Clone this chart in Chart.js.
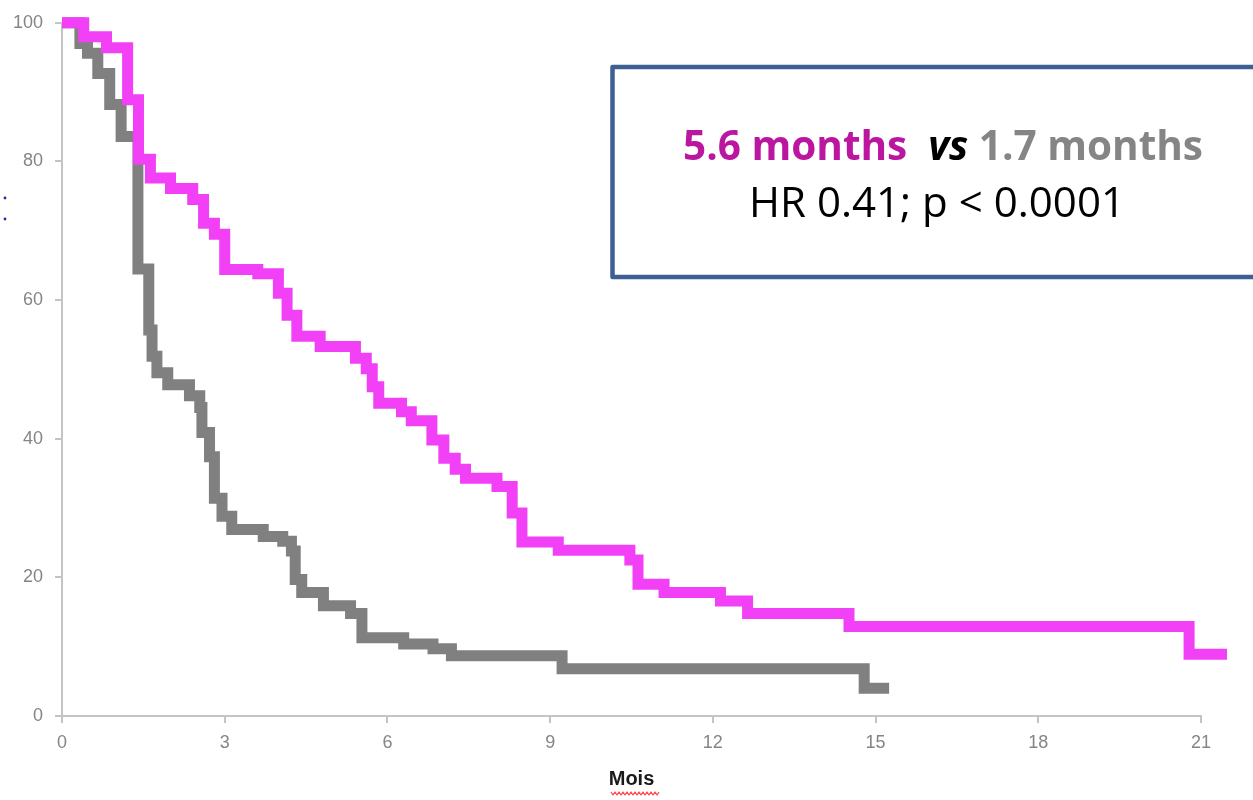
<!DOCTYPE html>
<html>
<head>
<meta charset="utf-8">
<script src="https://cdn.jsdelivr.net/npm/chart.js@4.4.1/dist/chart.umd.min.js"></script>
<style>
  html, body { margin: 0; padding: 0; background: #ffffff; }
  #wrap { width: 1253px; height: 800px; position: relative; }
</style>
</head>
<body>
<div id="wrap"><canvas id="kmChart" width="1253" height="800"></canvas></div>
<script>
// Kaplan-Meier steps: time (months) of each drop and survival (%) after it
const magentaMonths = [0, 0.40, 0.82, 1.21, 1.41, 1.63, 2.00, 2.41, 2.61, 2.81, 3.00, 3.61, 3.99, 4.15, 4.33, 4.76, 5.41, 5.61, 5.72, 5.84, 6.26, 6.44, 6.82, 7.04, 7.25, 7.44, 8.02, 8.30, 8.48, 9.15, 10.47, 10.62, 11.10, 12.14, 12.64, 14.51, 20.78, 21.48];
const magentaSurvival = [100, 98.0, 96.4, 88.9, 80.3, 77.6, 76.1, 74.5, 71.1, 69.5, 64.4, 63.8, 61.0, 57.8, 54.8, 53.3, 51.6, 50.1, 47.5, 45.1, 43.9, 42.6, 39.8, 37.2, 35.6, 34.3, 33.1, 29.3, 25.1, 23.9, 22.5, 19.0, 17.8, 16.6, 14.8, 12.9, 8.9, 8.9];

const grayMonths = [0, 0.33, 0.47, 0.66, 0.88, 1.09, 1.40, 1.60, 1.66, 1.75, 1.95, 2.35, 2.54, 2.58, 2.72, 2.81, 2.95, 3.13, 3.71, 4.07, 4.23, 4.30, 4.42, 4.82, 5.32, 5.53, 6.30, 6.84, 7.18, 9.22, 14.79, 15.25];
const graySurvival = [100, 97.0, 95.6, 92.7, 88.2, 83.6, 64.5, 55.7, 51.9, 49.5, 47.8, 46.2, 44.5, 40.9, 37.4, 31.4, 28.8, 26.9, 25.9, 25.2, 23.8, 19.7, 17.8, 15.9, 14.8, 11.3, 10.4, 9.7, 8.7, 6.8, 4.0, 4.0];

const xTickValues = [0, 3, 6, 9, 12, 15, 18, 21];
const yTickValues = [0, 20, 40, 60, 80, 100];

const AXIS_COLOR = '#c4c4c4';
const TICK_COLOR = '#858585';

function toPoints(xs, ys) {
    return xs.map((x, i) => ({ x: x, y: ys[i] }));
}

// Draws one line of mixed-style text squeezed to a given width (Calibri-like look)
function drawFittedLine(ctx, parts, left, right, baseline) {
    let total = 0;
    parts.forEach(p => {
        ctx.font = p.font;
        p.w = ctx.measureText(p.text).width;
        total += p.w;
    });
    const sx = (right - left) / total;
    ctx.save();
    ctx.translate(left, baseline);
    ctx.scale(sx, 1);
    ctx.textAlign = 'left';
    ctx.textBaseline = 'alphabetic';
    let x = 0;
    parts.forEach(p => {
        ctx.font = p.font;
        ctx.fillStyle = p.color;
        ctx.fillText(p.text, x, 0);
        x += p.w;
    });
    ctx.restore();
}

const annotationPlugin = {
    id: 'annotationBox',
    afterDraw: function (chart) {
        const ctx = chart.ctx;
        ctx.save();

        // result box (runs off the right edge in the original)
        ctx.strokeStyle = '#3d6090';
        ctx.lineWidth = 4.5;
        ctx.lineJoin = 'round';
        ctx.strokeRect(612.5, 67, 700, 210);

        drawFittedLine(ctx, [
            { text: '5.6 months  ', font: 'bold 42px "Open Sans"', color: '#bb16a0' },
            { text: 'vs ', font: 'italic bold 42px "Open Sans"', color: '#000000' },
            { text: '1.7 months', font: 'bold 42px "Open Sans"', color: '#858585' }
        ], 683, 1203, 160);

        drawFittedLine(ctx, [
            { text: 'HR 0.41; p < 0.0001', font: '42px "Open Sans"', color: '#000000' }
        ], 749, 1125, 217);

        // spell-check squiggle under the axis title
        ctx.strokeStyle = '#ff4a4a';
        ctx.lineWidth = 1.3;
        ctx.beginPath();
        for (let x = 611; x <= 659; x += 2) {
            const y = ((x - 611) / 2) % 2 === 0 ? 792 : 795;
            if (x === 611) ctx.moveTo(x, y); else ctx.lineTo(x, y);
        }
        ctx.stroke();

        // two stray dots at the left edge
        ctx.fillStyle = '#1c2f9c';
        ctx.beginPath();
        ctx.arc(5, 198, 1.4, 0, Math.PI * 2);
        ctx.arc(5, 219, 1.4, 0, Math.PI * 2);
        ctx.fill();

        ctx.restore();
    }
};

const ctx = document.getElementById('kmChart').getContext('2d');

new Chart(ctx, {
    type: 'line',
    data: {
        datasets: [
            {
                label: 'Bras A',
                data: toPoints(magentaMonths, magentaSurvival),
                borderColor: '#f240f6',
                borderWidth: 11,
                stepped: 'before',
                pointRadius: 0,
                borderJoinStyle: 'miter',
                borderCapStyle: 'butt',
                fill: false,
                clip: false
            },
            {
                label: 'Bras B',
                data: toPoints(grayMonths, graySurvival),
                borderColor: '#808080',
                borderWidth: 11,
                stepped: 'before',
                pointRadius: 0,
                borderJoinStyle: 'miter',
                borderCapStyle: 'butt',
                fill: false,
                clip: false
            }
        ]
    },
    options: {
        responsive: false,
        animation: false,
        layout: {
            padding: { top: 17, right: 52, left: 0, bottom: 0 }
        },
        scales: {
            x: {
                type: 'linear',
                min: 0,
                max: 21,
                afterBuildTicks: function (scale) {
                    scale.ticks = xTickValues.map(v => ({ value: v }));
                },
                afterFit: function (scale) {
                    scale.height = 84;
                },
                grid: {
                    drawOnChartArea: false,
                    drawTicks: true,
                    tickLength: 7,
                    color: AXIS_COLOR,
                    lineWidth: 2
                },
                border: { display: true, color: AXIS_COLOR, width: 2 },
                ticks: {
                    color: TICK_COLOR,
                    font: { family: '"Liberation Sans", Arial, sans-serif', size: 18 },
                    padding: 9,
                    maxRotation: 0
                },
                title: {
                    display: true,
                    text: 'Mois',
                    color: '#1a1a1a',
                    font: { family: '"Liberation Sans", Arial, sans-serif', size: 20, weight: 'bold' },
                    padding: { top: 4, bottom: 9 }
                }
            },
            y: {
                min: 0,
                max: 100,
                afterBuildTicks: function (scale) {
                    scale.ticks = yTickValues.map(v => ({ value: v }));
                },
                afterFit: function (scale) {
                    scale.width = 62;
                },
                grid: {
                    drawOnChartArea: false,
                    drawTicks: true,
                    tickLength: 7,
                    color: AXIS_COLOR,
                    lineWidth: 2
                },
                border: { display: true, color: AXIS_COLOR, width: 2 },
                ticks: {
                    color: TICK_COLOR,
                    font: { family: '"Liberation Sans", Arial, sans-serif', size: 18 },
                    padding: 12
                }
            }
        },
        plugins: {
            legend: { display: false },
            tooltip: { enabled: false }
        }
    },
    plugins: [annotationPlugin]
});
</script>
</body>
</html>
